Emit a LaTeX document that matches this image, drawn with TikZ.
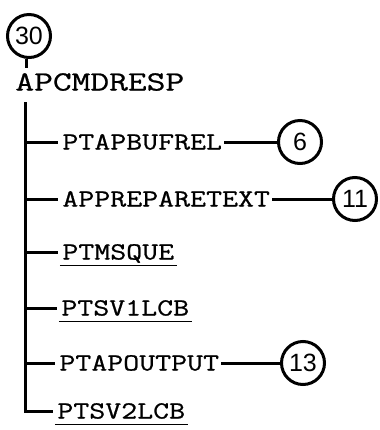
\documentclass[tikz,border=0pt]{standalone}
\usepackage{fontspec}
\newfontfamily\numfont{Liberation Sans}
\newfontfamily\twfont{Latin Modern Mono}[FakeStretch=1.26,FakeBold=0.8]
\newfontfamily\twrootfont{Latin Modern Mono}[FakeStretch=1.31,FakeBold=0.8]
\begin{document}
\begin{tikzpicture}[x=0.5pt,y=-0.5pt,
  lbl/.style={font=\twfont\fontsize{12.3}{14}\selectfont, inner sep=0pt, text height=7.5pt, text depth=0pt, anchor=west},
  rootlbl/.style={font=\twrootfont\fontsize{13.9}{16}\selectfont, inner sep=0pt, text height=8.5pt, text depth=0pt, anchor=west},
  num/.style={circle, draw, line width=1.5pt, minimum size=21.5pt, inner sep=0pt, font=\numfont\fontsize{12.5}{13}\selectfont},
  ln/.style={line width=1.5pt},
  ul/.style={line width=0.8pt}]
\useasboundingbox (0,0) rectangle (380,430);
\node[num] (c30) at (29,36) {30};
\node[rootlbl] (root) at (15,82) {APCMDRESP};
\node[lbl] (r1) at (62,142) {PTAPBUFREL};
\node[lbl] (r2) at (62,199) {APPREPARETEXT};
\node[lbl] (r3) at (62,252) {PTMSQUE};
\node[lbl] (r4) at (61,308) {PTSV1LCB};
\node[lbl] (r5) at (59,363) {PTAPOUTPUT};
\node[lbl] (r6) at (57,411) {PTSV2LCB};
\node[num] (c6) at (300,142) {6};
\node[num] (c11) at (355,199) {11};
\node[num] (c13) at (303,363) {13};
\coordinate (stem) at (27,68);
\coordinate (top) at (26,102);
\draw[ln] (c30.south -| stem) -- (stem);
\draw[ln] (top) |- ([xshift=-2pt]r6.west);
\foreach \r in {r1,r2,r3,r4,r5}
  \draw[ln, shorten >=2pt] (\r.west -| top) -- (\r.west);
\draw[ln, shorten <=1pt] (r1.east) -- (c6);
\draw[ln, shorten <=1pt] (r2.east) -- (c11);
\draw[ln, shorten <=1pt] (r5.east) -- (c13);
\foreach \r in {r3,r4,r6}
  \draw[ul] ([yshift=-2.75pt,xshift=-1pt]\r.south west) -- ([yshift=-2.75pt,xshift=1pt]\r.south east);
\end{tikzpicture}
\end{document}
